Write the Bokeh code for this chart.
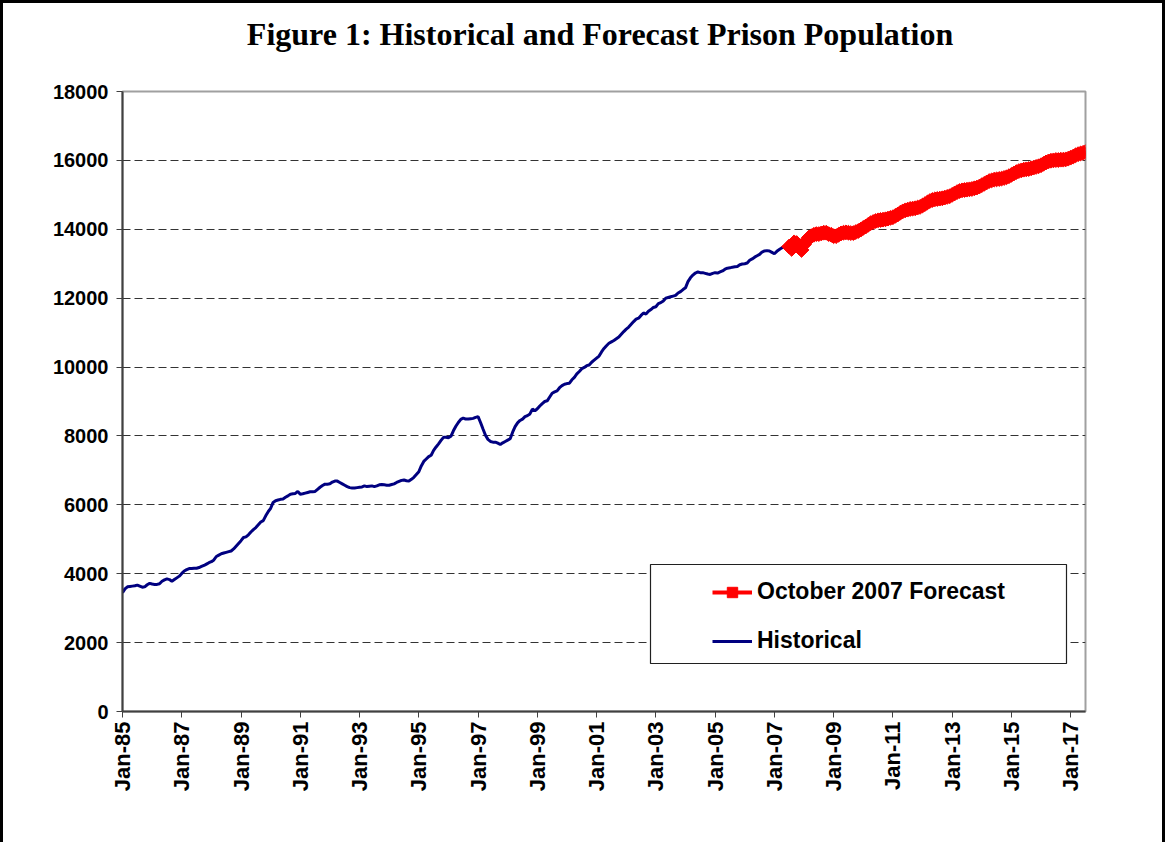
import math
from bokeh.plotting import figure
from bokeh.models import (FixedTicker, Range1d, Legend, LegendItem,
                          BoxAnnotation, LinearAxis)
from bokeh.embed import file_html
from bokeh.resources import INLINE

# ---------------- data ----------------
title_text = "Figure 1:  Historical and Forecast Prison Population"
forecast_label = "October 2007 Forecast"
historical_label = "Historical"

# monthly, Jan-85 .. Jun-07
historical = [
    3450, 3560, 3620, 3630, 3640, 3650, 3670, 3640, 3610, 3620, 3680, 3720,
    3700, 3690, 3690, 3710, 3780, 3820, 3850, 3830, 3780, 3830, 3880, 3930,
    4010, 4080, 4120, 4150, 4150, 4160, 4160, 4180, 4210, 4240, 4280, 4320,
    4350, 4400, 4500, 4540, 4580, 4600, 4620, 4640, 4660, 4720, 4800, 4880,
    4960, 5050, 5070, 5130, 5210, 5280, 5340, 5420, 5500, 5540, 5680, 5800,
    5900, 6070, 6120, 6140, 6160, 6170, 6220, 6260, 6310, 6320, 6330, 6390,
    6310, 6320, 6340, 6360, 6380, 6380, 6390, 6450, 6510, 6560, 6600, 6600,
    6610, 6660, 6690, 6690, 6650, 6610, 6570, 6530, 6500, 6490, 6490, 6500,
    6510, 6520, 6550, 6530, 6540, 6550, 6530, 6550, 6580, 6590, 6580, 6570,
    6570, 6590, 6610, 6650, 6680, 6710, 6720, 6700, 6690, 6740, 6800, 6880,
    6960, 7130, 7260, 7330, 7400, 7440, 7580, 7680, 7770, 7870, 7960, 7960,
    7950, 7990, 8150, 8280, 8390, 8480, 8520, 8490, 8490, 8500, 8510, 8540,
    8560, 8390, 8200, 8020, 7900, 7840, 7820, 7820, 7790, 7750, 7800, 7840,
    7880, 7920, 8110, 8270, 8380, 8450, 8490, 8560, 8590, 8640, 8780, 8730,
    8790, 8870, 8940, 9000, 9020, 9130, 9240, 9280, 9310, 9400, 9460, 9500,
    9520, 9530, 9630, 9700, 9800, 9870, 9950, 9990, 10040, 10060, 10140, 10200,
    10260, 10320, 10440, 10540, 10620, 10690, 10730, 10770, 10820, 10870, 10950, 11030,
    11100, 11160, 11240, 11320, 11390, 11420, 11500, 11570, 11540, 11620, 11670, 11730,
    11750, 11840, 11870, 11920, 12000, 12020, 12040, 12060, 12080, 12150, 12190, 12250,
    12300, 12480, 12590, 12670, 12730, 12760, 12740, 12740, 12720, 12700, 12690, 12720,
    12740, 12730, 12760, 12790, 12840, 12870, 12880, 12900, 12910, 12920, 12970, 12990,
    13000, 13020, 13100, 13140, 13190, 13230, 13270, 13340, 13370, 13380, 13370, 13330,
    13290, 13360, 13410, 13460, 13500, 13520,
]

# monthly, Jul-07 .. Jul-17
forecast = [
    13500, 13430, 13620, 13600, 13470, 13400,
    13560, 13670, 13760, 13800, 13840, 13860, 13860, 13880, 13900, 13900, 13860, 13840,
    13800, 13800, 13840, 13880, 13900, 13910, 13900, 13890, 13890, 13920, 13950, 13990,
    14040, 14080, 14130, 14180, 14210, 14240, 14260, 14270, 14280, 14290, 14310, 14330,
    14350, 14390, 14430, 14480, 14520, 14550, 14570, 14590, 14600, 14610, 14630, 14650,
    14690, 14730, 14780, 14820, 14850, 14870, 14880, 14890, 14900, 14920, 14940, 14960,
    15000, 15040, 15080, 15110, 15130, 15140, 15150, 15160, 15170, 15190, 15210, 15240,
    15280, 15320, 15360, 15400, 15420, 15440, 15450, 15460, 15470, 15490, 15510, 15540,
    15580, 15620, 15660, 15690, 15710, 15730, 15740, 15750, 15770, 15790, 15810, 15830,
    15860, 15900, 15940, 15970, 15990, 16000, 16010, 16010, 16020, 16020, 16030, 16050,
    16080, 16110, 16150, 16180, 16200, 16220, 16240,
]

tick_labels = ["Jan-85", "Jan-87", "Jan-89", "Jan-91", "Jan-93", "Jan-95",
               "Jan-97", "Jan-99", "Jan-01", "Jan-03", "Jan-05", "Jan-07",
               "Jan-09", "Jan-11", "Jan-13", "Jan-15", "Jan-17"]
y_ticks = [0, 2000, 4000, 6000, 8000, 10000, 12000, 14000, 16000, 18000]

# ---------------- figure ----------------
n_hist = len(historical)
hist_x = list(range(n_hist))
fc_x = list(range(n_hist, n_hist + len(forecast)))
tick_pos = [24 * i for i in range(len(tick_labels))]

B = 3  # outer border thickness (css)
W, H = 1165, 842
p = figure(width=W, height=H, output_backend="svg", toolbar_location=None,
           x_range=Range1d(0, n_hist + len(forecast) - 1),
           y_range=Range1d(0, 18000),
           min_border_left=122 - B, min_border_right=W - (1085 - B),
           min_border_top=91 - B, min_border_bottom=H - (711 - B),
           background_fill_color="white", border_fill_color="white",
           styles={"border-left": "3px solid black",
                   "border-top": "3px solid black",
                   "border-right": "3px solid black"})

# chart title (drawn as the label of a bare axis above the frame)
title_axis = LinearAxis(axis_label=title_text, ticker=FixedTicker(ticks=[]),
                        axis_label_text_font="Liberation Serif",
                        axis_label_text_font_size="32px",
                        axis_label_text_font_style="bold",
                        axis_label_text_color="black",
                        axis_label_standoff=40,
                        major_tick_out=0, major_tick_in=0,
                        minor_tick_out=0, minor_tick_in=0,
                        axis_line_color=None,
                        major_label_text_font_size="0px",
                        bounds=(0, 376))
p.add_layout(title_axis, "above")

p.outline_line_color = "#a0a0a0"
p.outline_line_width = 2

p.xgrid.grid_line_color = None
p.ygrid.grid_line_color = "#333333"
p.ygrid.grid_line_dash = "8 4"
p.ygrid.grid_line_width = 1
p.ygrid.ticker = FixedTicker(ticks=y_ticks)

p.yaxis.ticker = FixedTicker(ticks=y_ticks)
p.below[0].ticker = FixedTicker(ticks=tick_pos)
p.below[0].major_label_overrides = {pos: lab for pos, lab in zip(tick_pos, tick_labels)}
p.below[0].major_label_orientation = math.pi / 2

for ax in (p.below[0], p.yaxis[0]):
    ax.axis_line_color = "#404040"
    ax.axis_line_width = 2
    ax.major_tick_line_color = "#404040"
    ax.major_tick_line_width = 1
    ax.major_tick_out = 6
    ax.major_tick_in = 0
    ax.minor_tick_line_color = None
    ax.major_label_text_font = "Liberation Sans"
    ax.major_label_text_font_style = "bold"
    ax.major_label_text_color = "black"
p.yaxis[0].major_label_text_font_size = "20px"
p.below[0].major_label_text_font_size = "22px"
p.yaxis[0].major_label_standoff = 8
p.below[0].major_label_standoff = 4

r_hist = p.line(hist_x, historical, line_color="#000080", line_width=3)
r_fc_line = p.line(fc_x, forecast, line_color="#ff0000", line_width=4)
r_fc_pts = p.scatter(fc_x, forecast, marker="square", angle=math.pi / 4,
                     size=10.5, fill_color="#ff0000", line_color="#ff0000")

# legend frame
p.add_layout(BoxAnnotation(left=650 - 2 * B, right=1066 - 2 * B,
                           top=564 - 2 * B, bottom=663 - 2 * B,
                           left_units="canvas", right_units="canvas",
                           top_units="canvas", bottom_units="canvas",
                           fill_color="white", fill_alpha=1.0,
                           line_color="#202020", line_alpha=1.0,
                           line_width=1.2, level="annotation"))

legend = Legend(items=[LegendItem(label=forecast_label, renderers=[r_fc_line, r_fc_pts]),
                       LegendItem(label=historical_label, renderers=[r_hist])],
                location=(590, 57), orientation="vertical",
                padding=10, spacing=22, glyph_width=40, glyph_height=26,
                label_height=26, label_standoff=5, margin=0,
                label_text_font="Liberation Sans", label_text_font_style="bold",
                label_text_font_size="23px", label_text_color="black",
                border_line_color=None, background_fill_alpha=0.0)
p.add_layout(legend, "center")

open("out.html", "w").write(file_html(p, INLINE))
